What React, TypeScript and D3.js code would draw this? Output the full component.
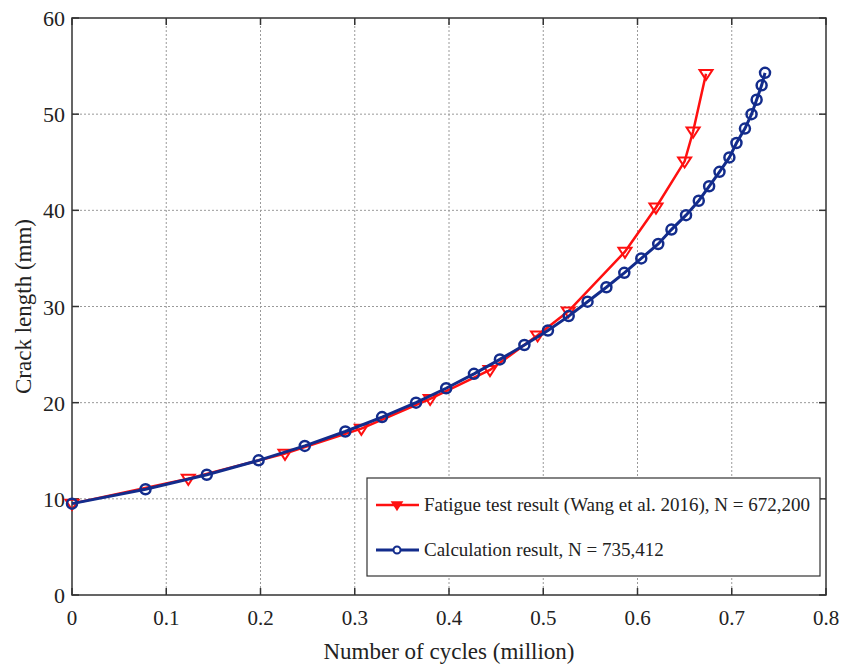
import React from "react";
import * as d3 from "d3";

const testX = [0, 0.1234, 0.226, 0.307, 0.38, 0.4435, 0.494, 0.5266, 0.5867, 0.6196, 0.65, 0.659, 0.6727];
const testY = [9.5, 12.1, 14.7, 17.3, 20.4, 23.4, 27.0, 29.5, 35.7, 40.3, 45.1, 48.2, 54.2];

const calcX = [0, 0.078, 0.143, 0.198, 0.247, 0.29, 0.329, 0.365, 0.397, 0.4265, 0.454, 0.48, 0.505, 0.527, 0.547, 0.567, 0.586, 0.604, 0.622, 0.636, 0.6515, 0.665, 0.676, 0.687, 0.6975, 0.705, 0.714, 0.721, 0.7264, 0.7317, 0.7353];
const calcY = [9.5, 11, 12.5, 14, 15.5, 17, 18.5, 20, 21.5, 23, 24.5, 26, 27.5, 29, 30.5, 32, 33.5, 35, 36.5, 38, 39.5, 41, 42.5, 44, 45.5, 47, 48.5, 50, 51.5, 53, 54.3];

const xTicks = [0, 0.1, 0.2, 0.3, 0.4, 0.5, 0.6, 0.7, 0.8];
const yTicks = [0, 10, 20, 30, 40, 50, 60];

const legendLabels = ["Fatigue test result (Wang et al. 2016), N = 672,200", "Calculation result,  N = 735,412"];

const RED = "#ff1010";
const BLUE = "#132c8c";
const FONT = "Liberation Serif, Times New Roman, serif";

export default function App() {
  const W = 843, H = 668;
  const L = 72, R = 826, T = 18, B = 595;
  const x = d3.scaleLinear().domain([0, 0.8]).range([L, R]);
  const y = d3.scaleLinear().domain([0, 60]).range([B, T]);
  const line = d3.line<[number, number]>().x(d => x(d[0])).y(d => y(d[1]));
  const test: [number, number][] = testX.map((v, i) => [v, testY[i]]);
  const calc: [number, number][] = calcX.map((v, i) => [v, calcY[i]]);
  const tri = (cx: number, cy: number, s = 6.5) =>
    `M${cx - s},${cy - s * 0.6}L${cx + s},${cy - s * 0.6}L${cx},${cy + s * 0.95}Z`;

  return (
    <svg width={W} height={H} style={{ position: "absolute", left: 0, top: 0, background: "#fff", fontFamily: FONT }}>
      {xTicks.slice(1, -1).map(t => (
        <line key={"gx" + t} x1={x(t)} x2={x(t)} y1={T} y2={B} stroke="#9a9a9a" strokeWidth={1} strokeDasharray="2,2" />
      ))}
      {yTicks.slice(1, -1).map(t => (
        <line key={"gy" + t} x1={L} x2={R} y1={y(t)} y2={y(t)} stroke="#9a9a9a" strokeWidth={1} strokeDasharray="2,2" />
      ))}
      <rect x={L} y={T} width={R - L} height={B - T} fill="none" stroke="#333" strokeWidth={1.5} />
      {xTicks.map(t => (
        <g key={"tx" + t}>
          <line x1={x(t)} x2={x(t)} y1={B} y2={B - 7} stroke="#333" strokeWidth={1.5} />
          <line x1={x(t)} x2={x(t)} y1={T} y2={T + 7} stroke="#333" strokeWidth={1.5} />
          <text x={x(t)} y={B + 30} textAnchor="middle" fontSize={21} fill="#222">{d3.format("")(t)}</text>
        </g>
      ))}
      {yTicks.map(t => (
        <g key={"ty" + t}>
          <line x1={L} x2={L + 7} y1={y(t)} y2={y(t)} stroke="#333" strokeWidth={1.5} />
          <line x1={R} x2={R - 7} y1={y(t)} y2={y(t)} stroke="#333" strokeWidth={1.5} />
          <text x={L - 7} y={y(t) + 8} textAnchor="end" fontSize={22} fill="#222">{t}</text>
        </g>
      ))}
      <text x={449} y={659} textAnchor="middle" fontSize={23} fill="#222">Number of cycles (million)</text>
      <text transform={`translate(31,${(T + B) / 2}) rotate(-90)`} textAnchor="middle" fontSize={23} fill="#222">Crack length (mm)</text>
      <path d={line(test) || ""} fill="none" stroke={RED} strokeWidth={2.5} />
      {test.map((d, i) => (
        <path key={"t" + i} d={tri(x(d[0]), y(d[1]))} fill="none" stroke={RED} strokeWidth={2} />
      ))}
      <path d={line(calc) || ""} fill="none" stroke={BLUE} strokeWidth={3} />
      {calc.map((d, i) => (
        <circle key={"c" + i} cx={x(d[0])} cy={y(d[1])} r={5} fill="none" stroke={BLUE} strokeWidth={2.5} />
      ))}
      <rect x={367} y={478} width={453} height={98} fill="#fff" stroke="#333" strokeWidth={1.2} />
      <line x1={376} x2={419} y1={505} y2={505} stroke={RED} strokeWidth={2.5} />
      <path d={tri(397, 505, 5)} fill={RED} stroke={RED} strokeWidth={1.5} />
      <text x={424} y={511} fontSize={19} fill="#222">{legendLabels[0]}</text>
      <line x1={376} x2={419} y1={550} y2={550} stroke={BLUE} strokeWidth={3} />
      <circle cx={397} cy={550} r={3.5} fill="#fff" stroke={BLUE} strokeWidth={2} />
      <text x={424} y={556} fontSize={19} fill="#222">{legendLabels[1]}</text>
    </svg>
  );
}
